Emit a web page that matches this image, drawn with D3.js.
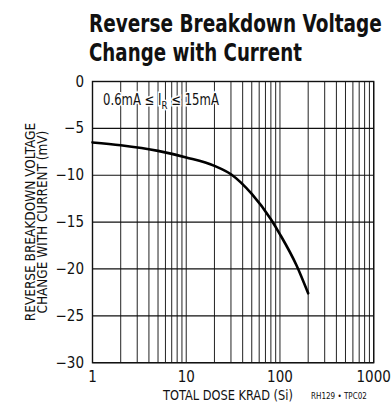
<!DOCTYPE html>
<html><head><meta charset="utf-8">
<script src="https://cdn.jsdelivr.net/npm/d3@7"></script>
<style>
body{margin:0;background:#fff;}
svg{display:block;}
text{font-family:"Liberation Sans Narrow","DejaVu Sans Condensed","Liberation Sans",sans-serif;fill:#111;}
</style></head>
<body><svg id="c" width="392" height="406"></svg>
<script>
const doseKrad = [1, 2, 5, 10, 20, 30, 50, 80, 100, 150, 200];
const deltaVmV = [-6.5, -6.8, -7.4, -8.1, -9.0, -9.9, -12.0, -14.7, -16.3, -19.6, -22.6];
const xTicks = [1, 10, 100, 1000];
const xTickLabels = ["1", "10", "100", "1000"];
const yTicks = [0, -5, -10, -15, -20, -25, -30];
const yTickLabels = ["0", "\u22125", "\u221210", "\u221215", "\u221220", "\u221225", "\u221230"];

const svg = d3.select("#c");
const x = d3.scaleLog().domain([1, 1000]).range([92.5, 373.7]);
const y = d3.scaleLinear().domain([-30, 0]).range([362.7, 81.5]);

function fitText(str, tx, ty, size, width, opts) {
  opts = opts || {};
  const grp = svg.append("g");
  const t = grp.append("text").attr("font-size", size).text(str);
  if (opts.bold) t.attr("font-weight", "bold");
  const w = t.node().getComputedTextLength();
  const s = Math.min(1, width / w);
  t.attr("x", opts.middle ? -w / 2 : 0);
  grp.attr("transform", `translate(${tx},${ty}) rotate(${opts.rot || 0}) scale(${s},1)`);
  return grp;
}

// title
fitText("Reverse Breakdown Voltage", 89, 32, 24, 293, {bold: true});
fitText("Change with Current", 89, 61, 24, 213, {bold: true});

// grid
const minor = [];
for (let d = 1; d < 1000; d *= 10) for (let k = 1; k < 10; k++) minor.push(d * k);
minor.push(1000);
const g = svg.append("g");
g.selectAll("line.v").data(minor).join("line")
  .attr("x1", d => x(d)).attr("x2", d => x(d))
  .attr("y1", y(0)).attr("y2", y(-30))
  .attr("stroke", "#222").attr("stroke-width", 1);
g.selectAll("line.h").data(yTicks).join("line")
  .attr("x1", x(1)).attr("x2", x(1000))
  .attr("y1", d => y(d)).attr("y2", d => y(d))
  .attr("stroke", "#111").attr("stroke-width", 1.2);
g.append("rect").attr("x", x(1)).attr("y", y(0)).attr("width", x(1000) - x(1)).attr("height", y(-30) - y(0))
  .attr("fill", "none").attr("stroke", "#111").attr("stroke-width", 1.4);

// y tick labels
svg.selectAll("text.yt").data(yTicks).join("text")
  .attr("x", 84).attr("y", d => y(d) + 5).attr("text-anchor", "end").attr("font-size", 15)
  .text((d, i) => yTickLabels[i]);
// x tick labels
svg.selectAll("text.xt").data(xTicks).join("text")
  .attr("x", d => x(d)).attr("y", 382).attr("text-anchor", "middle").attr("font-size", 15)
  .text((d, i) => xTickLabels[i]);

// axis titles
fitText("TOTAL DOSE KRAD (Si)", 228, 400, 14, 130, {middle: true});
fitText("RH129 \u2022 TPC02", 311, 399, 8, 62);
fitText("REVERSE BREAKDOWN VOLTAGE", 35, 222, 13.5, 203, {middle: true, rot: -90});
fitText("CHANGE WITH CURRENT (mV)", 47, 222, 13.5, 183, {middle: true, rot: -90});

// condition label
const labG = svg.append("g");
const lab = labG.append("text").attr("x", 0).attr("y", 0).attr("font-size", 15)
  .attr("stroke", "#fff").attr("stroke-width", 3).attr("paint-order", "stroke");
lab.append("tspan").text("0.6mA \u2264 I");
lab.append("tspan").attr("font-size", 11).attr("dy", 4).text("R");
lab.append("tspan").attr("dy", -4).text(" \u2264 15mA");
const lw = lab.node().getComputedTextLength();
labG.attr("transform", `translate(103,105) scale(${Math.min(1, 116 / lw)},1)`);

// curve
const pts = doseKrad.map((d, i) => [d, deltaVmV[i]]);
svg.append("path").datum(pts)
  .attr("d", d3.line().x(d => x(d[0])).y(d => y(d[1])).curve(d3.curveMonotoneX))
  .attr("fill", "none").attr("stroke", "#000").attr("stroke-width", 2.6).attr("stroke-linecap", "round");
</script></body></html>
